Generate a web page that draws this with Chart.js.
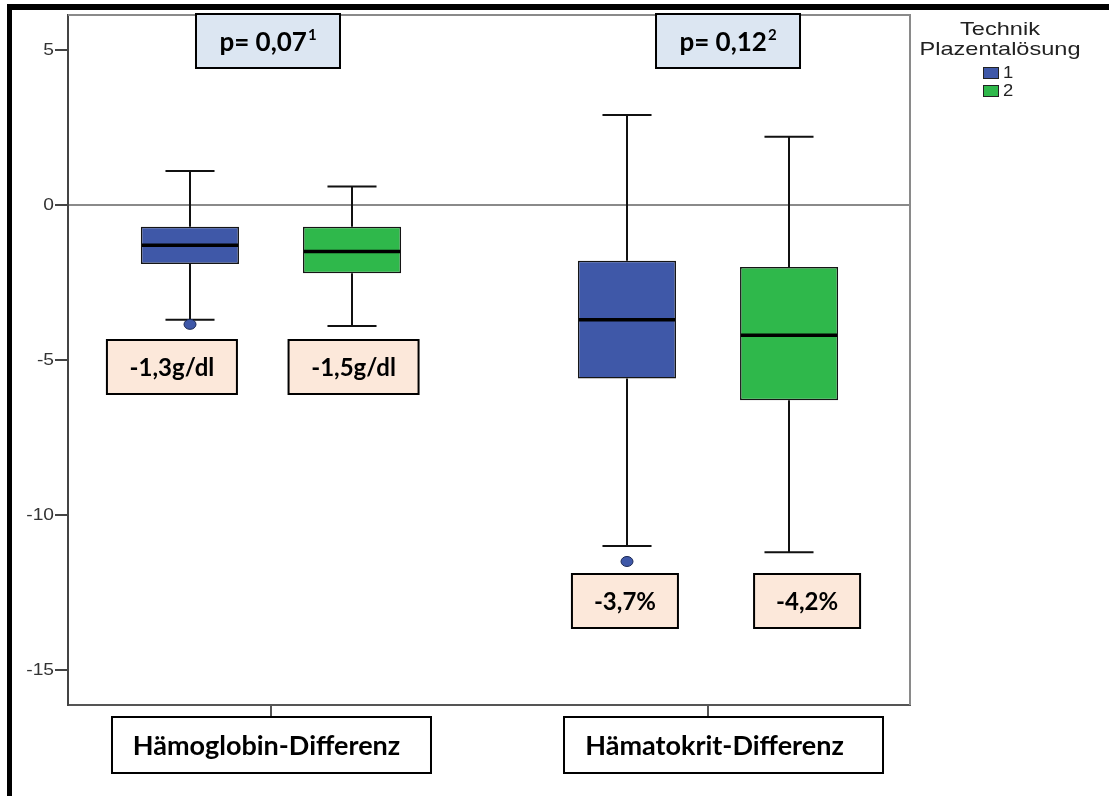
<!DOCTYPE html>
<html>
<head>
<meta charset="utf-8">
<title>Hämoglobin- und Hämatokrit-Differenz</title>
<script src="https://cdn.jsdelivr.net/npm/chart.js@4.4.1/dist/chart.umd.min.js"></script>
<style>
  html, body { margin: 0; padding: 0; background: #ffffff; }
  canvas { display: block; }
</style>
</head>
<body>
<canvas id="chart" width="1109" height="796"></canvas>
<script>
// Categories and units
const categories = ['Hämoglobin-Differenz', 'Hämatokrit-Differenz'];
const units = ['g/dl', '%'];

// Legend groups (Technik Plazentalösung)
const legendTitle = ['Technik', 'Plazentalösung'];
const groupLabels = ['1', '2'];
const groupColors = ['#3f58a8', '#2fb84b'];

// Group 1: box-plot statistics per category
const whiskerHigh1 = [1.1, 2.9];
const upperQuartile1 = [-0.7, -1.8];
const median1 = [-1.3, -3.7];
const lowerQuartile1 = [-1.9, -5.6];
const whiskerLow1 = [-3.7, -11.0];
const outliers1 = [[-3.85], [-11.5]];

// Group 2: box-plot statistics per category
const whiskerHigh2 = [0.6, 2.2];
const upperQuartile2 = [-0.7, -2.0];
const median2 = [-1.5, -4.2];
const lowerQuartile2 = [-2.2, -6.3];
const whiskerLow2 = [-3.9, -11.2];
const outliers2 = [[], []];

// p-values with footnote markers
const pValues = ['0,07', '0,12'];
const pFootnotes = ['1', '2'];

// y-axis tick values
const yTickValues = [-15, -10, -5, 0, 5];

const groupStats = [
  { hi: whiskerHigh1, q3: upperQuartile1, med: median1, q1: lowerQuartile1, lo: whiskerLow1, out: outliers1 },
  { hi: whiskerHigh2, q3: upperQuartile2, med: median2, q1: lowerQuartile2, lo: whiskerLow2, out: outliers2 }
];

const BOLD = 'Lato, "Open Sans", sans-serif';
const PLAIN = '"Liberation Sans", Arial, sans-serif';

function fmt(v) { return v.toFixed(1).replace('.', ','); }

function drawBox(ctx, x, y, w, h, fill, lw) {
  ctx.save();
  ctx.fillStyle = fill;
  ctx.fillRect(x, y, w, h);
  ctx.lineWidth = lw;
  ctx.strokeStyle = '#000';
  ctx.strokeRect(x, y, w, h);
  ctx.restore();
}

function stretchedText(ctx, text, x, y, font, align, sx, color) {
  ctx.save();
  ctx.translate(x, y);
  ctx.scale(sx, 1);
  ctx.font = font;
  ctx.fillStyle = color;
  ctx.textAlign = align;
  ctx.textBaseline = 'middle';
  ctx.fillText(text, 0, 0);
  ctx.restore();
}

// Whiskers, caps, medians and outliers on top of the floating bars
const boxWhiskerPlugin = {
  id: 'boxWhisker',
  afterDatasetsDraw(chart) {
    const ctx = chart.ctx;
    const ys = chart.scales.y;
    groupStats.forEach((s, d) => {
      const meta = chart.getDatasetMeta(d);
      meta.data.forEach((bar, i) => {
        const cx = Math.round(bar.x);
        const half = bar.width / 2;
        const pHi = ys.getPixelForValue(s.hi[i]);
        const pQ3 = ys.getPixelForValue(s.q3[i]);
        const pQ1 = ys.getPixelForValue(s.q1[i]);
        const pLo = ys.getPixelForValue(s.lo[i]);
        const pMed = ys.getPixelForValue(s.med[i]);
        ctx.save();
        ctx.strokeStyle = '#111';
        ctx.lineWidth = 2;
        ctx.beginPath();
        ctx.moveTo(cx, pHi); ctx.lineTo(cx, pQ3);
        ctx.moveTo(cx, pQ1); ctx.lineTo(cx, pLo);
        ctx.moveTo(cx - half / 2, pHi); ctx.lineTo(cx + half / 2, pHi);
        ctx.moveTo(cx - half / 2, pLo); ctx.lineTo(cx + half / 2, pLo);
        ctx.stroke();
        ctx.lineWidth = 3.5;
        ctx.strokeStyle = '#000';
        ctx.beginPath();
        ctx.moveTo(cx - half + 1, pMed); ctx.lineTo(cx + half - 1, pMed);
        ctx.stroke();
        s.out[i].forEach(v => {
          ctx.beginPath();
          ctx.ellipse(cx, ys.getPixelForValue(v), 6, 5, 0, 0, Math.PI * 2);
          ctx.fillStyle = groupColors[d];
          ctx.fill();
          ctx.lineWidth = 1;
          ctx.strokeStyle = '#1d2a55';
          ctx.stroke();
        });
        ctx.restore();
      });
    });
  }
};

// Frame, tick labels, legend and text boxes
const decorPlugin = {
  id: 'decor',
  beforeDraw(chart) {
    const ctx = chart.ctx;
    ctx.save();
    ctx.fillStyle = '#ffffff';
    ctx.fillRect(0, 0, chart.width, chart.height);
    ctx.restore();
  },
  afterDraw(chart) {
    const ctx = chart.ctx;
    const a = chart.chartArea;
    const xs = chart.scales.x;
    const ys = chart.scales.y;

    // top and right edges of the plot frame
    ctx.save();
    ctx.strokeStyle = '#8a8a8a';
    ctx.lineWidth = 2;
    ctx.beginPath();
    ctx.moveTo(a.left, a.top); ctx.lineTo(a.right, a.top); ctx.lineTo(a.right, a.bottom);
    ctx.stroke();
    ctx.restore();

    // y tick labels
    ys.ticks.forEach(t => {
      stretchedText(ctx, String(t.value), a.left - 14, ys.getPixelForValue(t.value) + 1,
        '16px ' + PLAIN, 'right', 1.2, '#333');
    });

    // legend
    const lx = 1000;
    stretchedText(ctx, legendTitle[0], lx, 30, '19px ' + PLAIN, 'center', 1.24, '#222');
    stretchedText(ctx, legendTitle[1], lx, 50, '19px ' + PLAIN, 'center', 1.24, '#222');
    groupLabels.forEach((g, k) => {
      const cy = 73 + k * 18;
      ctx.save();
      ctx.fillStyle = chart.data.datasets[k].backgroundColor;
      ctx.fillRect(983, cy - 6, 16, 12);
      ctx.strokeStyle = '#222';
      ctx.lineWidth = 1;
      ctx.strokeRect(983.5, cy - 5.5, 15, 11);
      ctx.restore();
      stretchedText(ctx, g, 1003, cy + 1, '16px ' + PLAIN, 'left', 1.15, '#222');
    });

    // p-value boxes
    const pDx = [-3, 20];
    categories.forEach((c, i) => {
      const cx = xs.getPixelForValue(i + 1) + pDx[i];
      drawBox(ctx, cx - 72, 14, 144, 54, '#dce6f2', 2);
      const main = 'p= ' + pValues[i];
      ctx.save();
      ctx.font = 'bold 26px ' + BOLD;
      const w1 = ctx.measureText(main).width;
      ctx.font = 'bold 15px ' + BOLD;
      const w2 = ctx.measureText(pFootnotes[i]).width;
      const x0 = cx - (w1 + w2 + 1) / 2;
      ctx.fillStyle = '#000';
      ctx.textBaseline = 'alphabetic';
      ctx.textAlign = 'left';
      ctx.font = 'bold 26px ' + BOLD;
      ctx.fillText(main, x0, 51);
      ctx.font = 'bold 15px ' + BOLD;
      ctx.fillText(pFootnotes[i], x0 + w1 + 1, 40);
      ctx.restore();
    });

    // median value boxes
    const vTop = [340, 574];
    const vW = [130, 106];
    const vDx = [[-18, 1.5], [-2, 18]];
    groupStats.forEach((s, d) => {
      const meta = chart.getDatasetMeta(d);
      meta.data.forEach((bar, i) => {
        const cx = bar.x + vDx[i][d];
        drawBox(ctx, cx - vW[i] / 2, vTop[i], vW[i], 54, '#fce8da', 2);
        ctx.save();
        ctx.font = 'bold 24px ' + BOLD;
        ctx.fillStyle = '#000';
        ctx.textAlign = 'center';
        ctx.textBaseline = 'middle';
        ctx.fillText(fmt(s.med[i]) + units[i], cx, vTop[i] + 28);
        ctx.restore();
      });
    });

    // category label boxes
    const cDx = [0.5, 15.5];
    const tDx = [-4.5, 6.5];
    categories.forEach((c, i) => {
      const tx = xs.getPixelForValue(i + 1);
      drawBox(ctx, tx + cDx[i] - 159.5, 717, 319, 56, '#ffffff', 2);
      ctx.save();
      ctx.font = 'bold 27px ' + BOLD;
      ctx.fillStyle = '#000';
      ctx.textAlign = 'center';
      ctx.textBaseline = 'middle';
      ctx.fillText(c, tx + tDx[i], 746);
      ctx.restore();
    });

    // outer black frame (top and left)
    ctx.save();
    ctx.fillStyle = '#000';
    ctx.fillRect(7, 4, chart.width - 7, 6);
    ctx.fillRect(7, 4, 5, chart.height - 4);
    ctx.restore();
  }
};

const ctx = document.getElementById('chart').getContext('2d');
new Chart(ctx, {
  type: 'bar',
  data: {
    datasets: groupStats.map((s, g) => ({
      label: groupLabels[g],
      data: categories.map((c, i) => ({ x: i + 1, y: [s.q1[i], s.q3[i]] })),
      backgroundColor: groupColors[g],
      borderColor: '#151515',
      borderWidth: 1.5,
      borderSkipped: false,
      categoryPercentage: 0.742,
      barPercentage: 0.605
    }))
  },
  options: {
    responsive: false,
    animation: false,
    devicePixelRatio: 1,
    layout: { padding: { top: 15, right: 199, left: 0, bottom: 0 } },
    plugins: {
      legend: { display: false },
      tooltip: { enabled: false },
      title: { display: false }
    },
    scales: {
      x: {
        type: 'linear',
        min: 0.5355,
        max: 2.4622,
        offset: false,
        afterBuildTicks: s => { s.ticks = categories.map((c, i) => ({ value: i + 1 })); },
        afterFit: s => { s.height = 91; },
        ticks: { display: false },
        grid: { offset: false, drawOnChartArea: false, drawTicks: true, tickLength: 11, tickColor: '#555', lineWidth: 2 },
        border: { display: true, color: '#555', width: 2 }
      },
      y: {
        type: 'linear',
        min: -16.13,
        max: 6.13,
        afterBuildTicks: s => { s.ticks = yTickValues.map(v => ({ value: v })); },
        afterFit: s => { s.width = 68; },
        ticks: { display: false },
        grid: {
          drawOnChartArea: true,
          drawTicks: true,
          tickLength: 13,
          color: c => (c.tick && c.tick.value === 0) ? '#8a8a8a' : 'rgba(0,0,0,0)',
          tickColor: '#444',
          lineWidth: 2
        },
        border: { display: true, color: '#444', width: 2 }
      }
    }
  },
  plugins: [boxWhiskerPlugin, decorPlugin]
});
</script>
</body>
</html>
